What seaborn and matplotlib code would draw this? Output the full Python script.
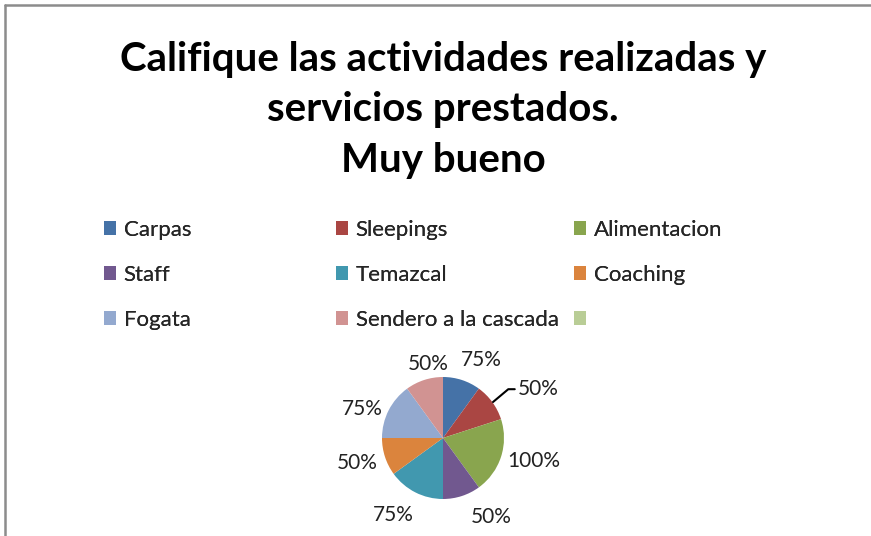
import matplotlib.pyplot as plt
import matplotlib.patches as mpatches
from matplotlib.lines import Line2D
import seaborn as sns

# Datos del grafico
categorias = ["Carpas", "Sleepings", "Alimentacion", "Staff", "Temazcal",
              "Coaching", "Fogata", "Sendero a la cascada", ""]
valores = [50, 50, 100, 50, 75, 50, 75, 50, 0]
etiquetas = ["75%", "50%", "100%", "50%", "75%", "50%", "75%", "50%", ""]

colores = ["#4572A7", "#AA4643", "#89A54E", "#71588F", "#4198AF",
           "#DB843D", "#93A9CF", "#D19392", "#B9CD96"]

# posicion de cada etiqueta (en radios del pastel), como la pone Excel
pos_etiquetas = [(0.62, 1.28), (1.61, 0.80), (1.49, -0.38), (0.79, -1.30),
                 (-0.82, -1.26), (-1.41, -0.41), (-1.33, 0.48), (-0.25, 1.21), None]

sns.set_theme(style="white")
plt.rcParams['font.family'] = ['Lato', 'DejaVu Sans']

W, H = 871, 536
fig = plt.figure(figsize=(W / 100, H / 100), dpi=100)
fig.patch.set_facecolor("white")

# borde del area del grafico (arriba e izquierda)
fig.add_artist(Line2D([5 / W, 1], [1 - 5 / H, 1 - 5 / H], color="#8c8c8c", lw=1.8))
fig.add_artist(Line2D([5 / W, 5 / W], [0, 1 - 5 / H], color="#8c8c8c", lw=1.8))

# titulo
fig.text(443 / W, 1 - 110 / H,
         "Califique las actividades realizadas y\nservicios prestados.\nMuy bueno",
         ha="center", va="center", fontsize=29, fontweight="bold",
         color="black", linespacing=1.45)

# pastel
cx, cy, r = 443, 438, 61
lado = 300
ax = fig.add_axes([(cx - lado / 2) / W, 1 - (cy + lado / 2) / H, lado / W, lado / H])
lim = lado / 2 / r
wedges, _ = ax.pie(valores, colors=colores, startangle=90, counterclock=False,
                   wedgeprops=dict(linewidth=0))
ax.set_xlim(-lim, lim)
ax.set_ylim(-lim, lim)
ax.set_aspect("equal")
ax.axis("off")

for i, (txt, pos) in enumerate(zip(etiquetas, pos_etiquetas)):
    if pos is None:
        continue
    if i == 1:
        ax.annotate(txt, xy=(0.82, 0.59), xytext=(1.23, pos[1]),
                    ha="left", va="center", fontsize=15, color="#222222",
                    arrowprops=dict(arrowstyle="-", color="black", lw=1.5,
                                    shrinkA=0, shrinkB=0,
                                    connectionstyle="angle,angleA=0,angleB=40,rad=0"))
    else:
        ax.text(pos[0], pos[1], txt, ha="center", va="center",
                fontsize=15, color="#222222")

# leyenda en tres columnas, llenado por filas
handles = [mpatches.Patch(facecolor=c, edgecolor="none") for c in colores]
col_x = [104, 336, 574]
for j in range(3):
    idx = [j, j + 3, j + 6]
    leg = fig.legend([handles[k] for k in idx], [categorias[k] for k in idx],
                     loc="upper left", bbox_to_anchor=(col_x[j] / W, 1 - 220 / H),
                     frameon=False, fontsize=16, handlelength=0.56,
                     handleheight=0.56, handletextpad=0.32, labelspacing=1.12,
                     borderpad=0, borderaxespad=0)
    fig.add_artist(leg)

fig.savefig("out.png", dpi=100)
